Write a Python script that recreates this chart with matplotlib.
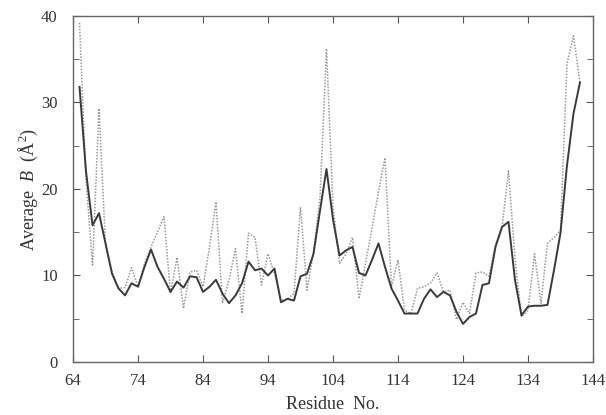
import matplotlib
matplotlib.use("Agg")
import matplotlib.pyplot as plt
from matplotlib.ticker import MultipleLocator

plt.rcParams['font.family'] = ['Liberation Serif', 'DejaVu Serif']
plt.rcParams['mathtext.fontset'] = 'custom'
plt.rcParams['mathtext.rm'] = 'Liberation Serif'
plt.rcParams['mathtext.it'] = 'Liberation Serif:italic'

residues = list(range(65, 143))

b_solid = [31.8, 22.0, 15.8, 17.2, 13.7, 10.2, 8.5, 7.7, 9.1, 8.7,
           11.0, 13.0, 11.0, 9.6, 8.1, 9.3, 8.6, 9.9, 9.8, 8.1,
           8.7, 9.5, 7.9, 6.8, 7.7, 9.1, 11.6, 10.6, 10.8, 10.0,
           10.8, 6.9, 7.3, 7.1, 9.9, 10.2, 12.5, 17.5, 22.3, 16.5,
           12.3, 12.9, 13.3, 10.3, 10.0, 11.8, 13.7, 11.0, 8.5, 7.1,
           5.6, 5.6, 5.6, 7.3, 8.4, 7.5, 8.1, 7.7, 5.8, 4.4,
           5.2, 5.6, 8.9, 9.1, 13.3, 15.6, 16.2, 9.5, 5.4, 6.4,
           6.5, 6.5, 6.6, 10.6, 14.9, 22.7, 28.7, 32.3]

b_dotted = [39.2, 21.0, 11.2, 29.3, 13.5, 10.5, 8.5, 8.6, 10.9, 8.7,
            11.4, 13.3, 15.0, 16.8, 7.9, 12.1, 6.2, 10.4, 10.6, 8.7,
            13.3, 18.5, 6.8, 9.5, 13.1, 5.6, 14.9, 14.4, 8.9, 12.5,
            10.2, 7.1, 7.3, 7.9, 17.9, 8.3, 12.6, 19.0, 36.2, 18.0,
            11.4, 12.5, 14.4, 7.3, 11.4, 15.4, 19.7, 23.6, 8.7, 11.8,
            6.0, 5.6, 8.5, 8.7, 9.1, 10.3, 8.1, 8.3, 4.9, 6.9,
            5.6, 10.3, 10.4, 9.9, 13.5, 15.5, 22.1, 12.0, 5.2, 6.0,
            12.5, 6.8, 13.7, 14.4, 15.2, 34.4, 37.7, 32.3]

x_ticks = [64, 74, 84, 94, 104, 114, 124, 134, 144]
y_ticks = [0, 10, 20, 30, 40]

fig = plt.figure(figsize=(6.06, 4.15), dpi=100)
ax = fig.add_axes([0.1205, 0.1277, 0.858, 0.834])

ax.plot(residues, b_dotted, linestyle=(0, (1, 1.0)), color='#9a9a9a', linewidth=1.1)
ax.plot(residues, b_solid, linestyle='-', color='#3a3a3a', linewidth=1.4)

ax.set_xlim(64, 144)
ax.set_ylim(0, 40)
ax.set_xticks(x_ticks)
ax.set_yticks(y_ticks)
ax.yaxis.set_minor_locator(MultipleLocator(5))
ax.tick_params(axis='both', which='both', direction='in', top=True, right=True,
               colors='#555555', labelcolor='#333333', labelsize=12)
ax.tick_params(axis='x', which='major', length=5, pad=8)
ax.tick_params(axis='y', which='major', length=5, pad=11)
ax.tick_params(which='minor', length=4)
for s in ax.spines.values():
    s.set_color('#666666')
    s.set_linewidth(1.0)

ax.set_xlabel('Residue  No.', fontsize=13, color='#333333', labelpad=5)
ax.set_ylabel(r'Average  $B$  (Å$^2$)', fontsize=13, color='#333333', labelpad=1)

fig.savefig('out.png', dpi=100)
